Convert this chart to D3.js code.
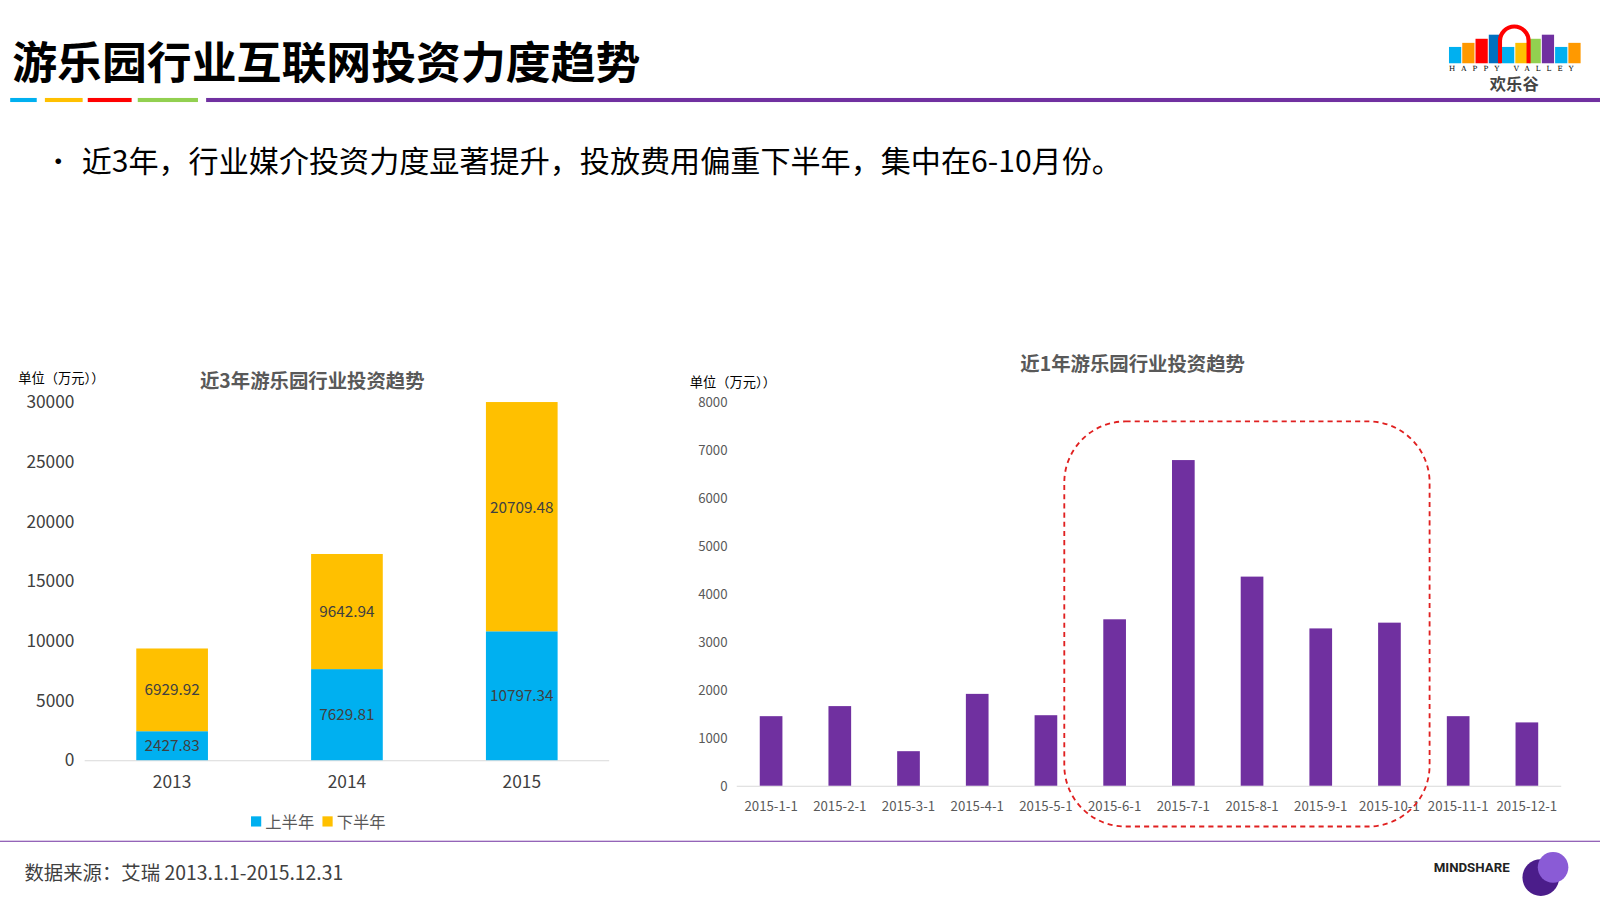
<!DOCTYPE html>
<html><head><meta charset="utf-8">
<script src="https://cdn.jsdelivr.net/npm/d3@7/dist/d3.min.js"></script>
<style>body{margin:0;background:#fff;font-family:"Noto Sans CJK SC","Noto Sans",sans-serif}</style>
</head><body><svg id="c" width="1600" height="900"></svg>
<script>
const years=["2013","2014","2015"];
const firstHalf=[2427.83,7629.81,10797.34];
const secondHalf=[6929.92,9642.94,20709.48];
const leftTicks=[0,5000,10000,15000,20000,25000,30000];
const months=["2015-1-1","2015-2-1","2015-3-1","2015-4-1","2015-5-1","2015-6-1","2015-7-1","2015-8-1","2015-9-1","2015-10-1","2015-11-1","2015-12-1"];
const monthly=[1450,1660,720,1915,1470,3470,6790,4360,3280,3400,1450,1320];
const rightTicks=[0,1000,2000,3000,4000,5000,6000,7000,8000];

const svg=d3.select("#c").append("g").attr("transform","scale("+(1600/1568)+")");
const F='"Noto Sans CJK SC",sans-serif';
svg.append("text").attr("x",12).attr("y",77).attr("font-size",44).attr("font-weight",700).attr("font-family",F).text("游乐园行业互联网投资力度趋势");
[["#00b0f0",10,36],["#ffc000",44,81],["#ff0000",86,129],["#92d050",135,194]].forEach(d=>svg.append("rect").attr("x",d[1]).attr("y",96).attr("width",d[2]-d[1]).attr("height",4).attr("fill",d[0]));
svg.append("rect").attr("x",202).attr("y",96).attr("width",1366).attr("height",4).attr("fill",'#7030a0');
svg.append("text").attr("x",44).attr("y",168).attr("font-size",26).attr("font-family",F).text("•");
svg.append("text").attr("x",80).attr("y",169).attr("font-size",29.5).attr("font-family",F).text("近3年，行业媒介投资力度显著提升，投放费用偏重下半年，集中在6-10月份。");
// logo
const lc=["#00b0f0","#ff9900","#ff0000","#0070c0","#00b0f0","#ffc000","#92d050","#7030a0","#00b0f0","#ff9900"];
lc.forEach((c,i)=>svg.append("rect").attr("x",1420+i*13).attr("y",46-(i%4)*4).attr("width",12).attr("height",16+(i%4)*4).attr("fill",c));
svg.append("path").attr("d","M1470,62 L1470,40 A14,14 0 0 1 1498,40 L1498,62").attr("fill","none").attr("stroke","#ff0000").attr("stroke-width",4);
svg.append("text").attr("x",1484).attr("y",70).attr("font-size",7).attr("text-anchor","middle").attr("letter-spacing",6).attr("font-family","DejaVu Serif").text("HAPPY VALLEY");
svg.append("text").attr("x",1484).attr("y",88).attr("font-size",16).attr("font-weight",700).attr("text-anchor","middle").attr("fill","#444").attr("font-family",F).text("欢乐谷");

// left chart
const x1=d3.scaleBand().domain(years).range([83,597]).paddingInner(0.59).paddingOuter(0.295);
const y1=d3.scaleLinear().domain([0,30000]).range([745,394]);
const y1c=y1.copy().clamp(true);
svg.append("text").attr("x",18).attr("y",375).attr("font-size",13).attr("font-family",F).text("单位（万元））");
svg.append("text").attr("x",306).attr("y",380).attr("font-size",19).attr("font-weight",700).attr("fill","#595959").attr("text-anchor","middle").attr("font-family",F).text("近3年游乐园行业投资趋势");
leftTicks.forEach(t=>svg.append("text").attr("x",73).attr("y",y1(t)+6).attr("text-anchor","end").attr("font-size",17).attr("fill","#404040").attr("font-family",F).text(t));
svg.append("line").attr("x1",83).attr("x2",597).attr("y1",745.5).attr("y2",745.5).attr("stroke","#d9d9d9");
years.forEach((yr,i)=>{
  const x=x1(yr),w=x1.bandwidth();
  const top=y1c(firstHalf[i]+secondHalf[i]);
  svg.append("rect").attr("x",x).attr("width",w).attr("y",y1(firstHalf[i])).attr("height",y1(0)-y1(firstHalf[i])).attr("fill","#00b0f0");
  svg.append("rect").attr("x",x).attr("width",w).attr("y",top).attr("height",y1(firstHalf[i])-top).attr("fill","#ffc000");
  svg.append("text").attr("x",x+w/2).attr("y",(y1(0)+y1(firstHalf[i]))/2+5).attr("text-anchor","middle").attr("font-size",15).attr("fill","#404040").attr("font-family",F).text(firstHalf[i]);
  svg.append("text").attr("x",x+w/2).attr("y",(y1(firstHalf[i])+y1(firstHalf[i]+secondHalf[i]))/2+5).attr("text-anchor","middle").attr("font-size",15).attr("fill","#404040").attr("font-family",F).text(secondHalf[i]);
  svg.append("text").attr("x",x+w/2).attr("y",772).attr("text-anchor","middle").attr("font-size",17).attr("fill","#404040").attr("font-family",F).text(yr);
});
svg.append("rect").attr("x",246).attr("y",800).attr("width",10).attr("height",10).attr("fill","#00b0f0");
svg.append("text").attr("x",260).attr("y",811).attr("font-size",16).attr("fill","#595959").attr("font-family",F).text("上半年");
svg.append("rect").attr("x",316).attr("y",800).attr("width",10).attr("height",10).attr("fill","#ffc000");
svg.append("text").attr("x",330).attr("y",811).attr("font-size",16).attr("fill","#595959").attr("font-family",F).text("下半年");

// right chart
const x2=d3.scaleBand().domain(months).range([722,1530]).paddingInner(0.67).paddingOuter(0.335);
const y2=d3.scaleLinear().domain([0,8000]).range([770,394]);
svg.append("text").attr("x",676).attr("y",379).attr("font-size",13).attr("font-family",F).text("单位（万元））");
svg.append("text").attr("x",1110).attr("y",364).attr("font-size",19).attr("font-weight",700).attr("fill","#595959").attr("text-anchor","middle").attr("font-family",F).text("近1年游乐园行业投资趋势");
rightTicks.forEach(t=>svg.append("text").attr("x",713).attr("y",y2(t)+5).attr("text-anchor","end").attr("font-size",13).attr("fill","#595959").attr("font-family",F).text(t));
svg.append("line").attr("x1",722).attr("x2",1530).attr("y1",770.5).attr("y2",770.5).attr("stroke","#d9d9d9");
svg.selectAll(".m").data(months).enter().append("rect").attr("x",d=>x2(d)).attr("width",x2.bandwidth()).attr("y",(d,i)=>y2(monthly[i])).attr("height",(d,i)=>y2(0)-y2(monthly[i])).attr("fill","#7030a0");
months.forEach(m=>svg.append("text").attr("x",x2(m)+x2.bandwidth()/2).attr("y",795).attr("text-anchor","middle").attr("font-size",13).attr("fill","#595959").attr("font-family",F).text(m));
svg.append("rect").attr("x",1043).attr("y",413).attr("width",358).attr("height",397).attr("rx",60).attr("fill","none").attr("stroke","#e02020").attr("stroke-width",1.8).attr("stroke-dasharray","5,4");

// footer
svg.append("line").attr("x1",0).attr("x2",1568).attr("y1",824.5).attr("y2",824.5).attr("stroke","#7030a0").attr("stroke-width",1);
svg.append("text").attr("x",24).attr("y",862).attr("font-size",19).attr("fill","#404040").attr("font-family",F).text("数据来源：艾瑞 2013.1.1-2015.12.31");
svg.append("text").attr("x",1405).attr("y",855).attr("font-size",13).attr("font-weight",700).attr("fill","#222").attr("font-family","Roboto").text("MINDSHARE");
svg.append("circle").attr("cx",1510).attr("cy",860).attr("r",18).attr("fill","#4b1d8a");
svg.append("circle").attr("cx",1522).attr("cy",850).attr("r",15).attr("fill","#8a5bd6");
</script></body></html>
